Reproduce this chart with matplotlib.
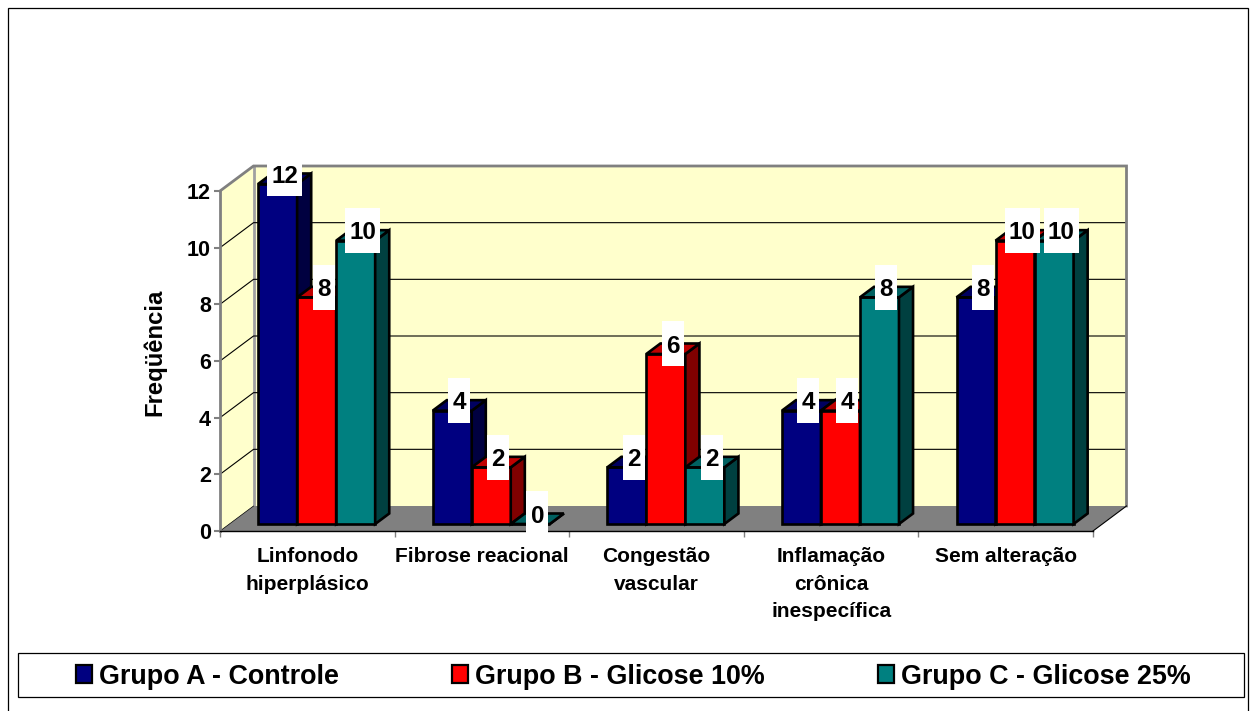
"""Grouped pseudo-3D bar chart of histology findings per group."""
import numpy as np
import matplotlib
matplotlib.use("Agg")
import matplotlib.pyplot as plt
from matplotlib.patches import Polygon, Rectangle

plt.rcParams['font.family'] = ['Liberation Sans', 'DejaVu Sans']
plt.rcParams['font.weight'] = 'bold'

# Data
categories = ["Linfonodo\nhiperplásico", "Fibrose reacional", "Congestão\nvascular",
              "Inflamação\ncrônica\ninespecífica", "Sem alteração"]
grupo_a = [12, 4, 2, 4, 8]
grupo_b = [8, 2, 6, 4, 10]
grupo_c = [10, 0, 2, 8, 10]
series_names = ["Grupo A - Controle", "Grupo B - Glicose 10%", "Grupo C - Glicose 25%"]
y_ticks = [0, 2, 4, 6, 8, 10, 12]

# Style: (front, side, top)
SHADES = [("#000080", "#000040", "#000060"),
          ("#FF0000", "#800000", "#C00000"),
          ("#008080", "#004040", "#006060")]
WALL = "#FFFFCC"
FLOOR = "#808080"

W, H = 1251, 711
AX_LEFT, AX_RIGHT, AX_TOP, AX_BOTTOM = 220, 1093, 191, 531
PX_X = (AX_RIGHT - AX_LEFT) / len(categories)
PX_Y = (AX_BOTTOM - AX_TOP) / 12
# pixel shift of the full chart depth, as data units
DX = 33.5 / PX_X
DY = 25 / PX_Y
BAR_W = 0.2235
GROUP_GAP = 0.1645
D_FRONT, D_BACK = 0.28, 0.70


def proj(x, v, d=0.0):
    """Project category position, value and depth (0-1) to axes data coords."""
    return x + d * DX, v + d * DY


def draw_bar(ax, x, v, shades):
    front, side, top = shades
    p = [proj(x, 0, D_FRONT), proj(x + BAR_W, 0, D_FRONT), proj(x + BAR_W, v, D_FRONT),
         proj(x, v, D_FRONT)]
    s = [proj(x + BAR_W, 0, D_FRONT), proj(x + BAR_W, 0, D_BACK), proj(x + BAR_W, v, D_BACK),
         proj(x + BAR_W, v, D_FRONT)]
    t = [proj(x, v, D_FRONT), proj(x + BAR_W, v, D_FRONT), proj(x + BAR_W, v, D_BACK),
         proj(x, v, D_BACK)]
    for pts, col in ((p, front), (s, side), (t, top)):
        ax.add_patch(Polygon(pts, closed=True, facecolor=col, edgecolor="black", lw=1.9,
                             joinstyle="miter", clip_on=False, zorder=3))


def draw_label(ax, x, v):
    cx, cy = proj(x + BAR_W / 2, v, (D_FRONT + D_BACK) / 2)
    cy += 5 / PX_Y
    txt = str(v)
    bw = (35 if len(txt) == 2 else 22) / PX_X
    bh = 45 / PX_Y
    ax.add_patch(Rectangle((cx - bw / 2, cy - bh / 2), bw, bh, facecolor="white", edgecolor="none",
                           clip_on=False, zorder=5))
    ax.text(cx, cy, txt, ha="center", va="center_baseline", fontsize=17.5, color="black", zorder=6)


fig = plt.figure(figsize=(W / 100, H / 100), dpi=100)
ax = fig.add_axes([AX_LEFT / W, 1 - AX_BOTTOM / H, (AX_RIGHT - AX_LEFT) / W, (AX_BOTTOM - AX_TOP) / H])
ax.set_xlim(0, len(categories))
ax.set_ylim(0, 12)
ax.patch.set_visible(False)

# Outer border
fig.add_artist(Rectangle((8 / W, -0.01), (1248 - 8) / W, 1.01 - 8 / H, transform=fig.transFigure,
                         facecolor="white", edgecolor="black", lw=0.9, zorder=-5))

# Walls and floor
n = len(categories)
ax.add_patch(Polygon([proj(0, 0, 1), proj(n, 0, 1), proj(n, 12, 1), proj(0, 12, 1)], closed=True,
                     facecolor=WALL, edgecolor="none", clip_on=False, zorder=0))
ax.add_patch(Polygon([proj(0, 0), proj(0, 0, 1), proj(0, 12, 1), proj(0, 12)], closed=True,
                     facecolor=WALL, edgecolor="none", clip_on=False, zorder=0))
ax.add_patch(Polygon([proj(0, 0), proj(n, 0), proj(n, 0, 1), proj(0, 0, 1)], closed=True,
                     facecolor=FLOOR, edgecolor="none", clip_on=False, zorder=0.5))

for v in y_ticks[1:-1]:
    xs, ys = zip(proj(0, v), proj(0, v, 1), proj(n, v, 1))
    ax.plot(xs, ys, color="black", lw=0.8, clip_on=False, zorder=1)

# Wall outlines
xs, ys = zip(proj(0, 12), proj(0, 12, 1), proj(n, 12, 1), proj(n, 0, 1))
ax.plot(xs, ys, color=FLOOR, lw=2, clip_on=False, zorder=1.5, solid_joinstyle="miter")
xs, ys = zip(proj(0, 12, 1), proj(0, 0, 1))
ax.plot(xs, ys, color="#A0A0A0", lw=2, clip_on=False, zorder=0.4)
xs, ys = zip(proj(n, 0), proj(n, 0, 1))
ax.plot(xs, ys, color="black", lw=0.8, clip_on=False, zorder=1.5)
xs, ys = zip(proj(0, 0), proj(0, 0, 1))
ax.plot(xs, ys, color="black", lw=0.5, clip_on=False, zorder=1.5)

# Bars, then labels on top
for i in range(n):
    for j, vals in enumerate((grupo_a, grupo_b, grupo_c)):
        draw_bar(ax, i + GROUP_GAP + j * BAR_W, vals[i], SHADES[j])
for i in range(n):
    for j, vals in enumerate((grupo_a, grupo_b, grupo_c)):
        draw_label(ax, i + GROUP_GAP + j * BAR_W, vals[i])

# Axes
for side in ("top", "right"):
    ax.spines[side].set_visible(False)
ax.spines["left"].set_color(FLOOR)
ax.spines["left"].set_linewidth(2)
ax.spines["bottom"].set_color("black")
ax.spines["bottom"].set_linewidth(1)
ax.set_yticks(y_ticks)
ax.tick_params(axis="y", length=4.5, width=1.5, color=FLOOR, labelsize=15.5, pad=2)
ax.set_xticks(np.arange(n + 1))
ax.set_xticklabels([])
ax.tick_params(axis="x", which="major", length=4.5, width=1, color=FLOOR)
ax.set_xticks(np.arange(n) + 0.5, minor=True)
ax.set_xticklabels(categories, minor=True, fontsize=15, linespacing=1.57)
ax.tick_params(axis="x", which="minor", length=0, pad=11.7)
fig.text(154.5 / W, 1 - 352.5 / H, "Freqüência", rotation=90, ha="center", va="center", fontsize=17.2)

# Legend
fig.add_artist(Rectangle((18 / W, 1 - 696.5 / H), 1226 / W, 43.5 / H, transform=fig.transFigure,
                         facecolor="white", edgecolor="black", lw=0.9, zorder=-1))
handles = [Rectangle((0, 0), 1, 1, facecolor=SHADES[j][0], edgecolor="black", lw=1.6) for j in range(3)]
leg = fig.legend(handles, series_names, ncol=3, loc="center", bbox_to_anchor=(633.5 / W, 1 - 676.5 / H),
                 frameon=False, fontsize=19.4, handlelength=0.6, handleheight=0.6, handletextpad=0.25,
                 columnspacing=4.2, borderpad=0)

fig.savefig("out.png", dpi=100)
